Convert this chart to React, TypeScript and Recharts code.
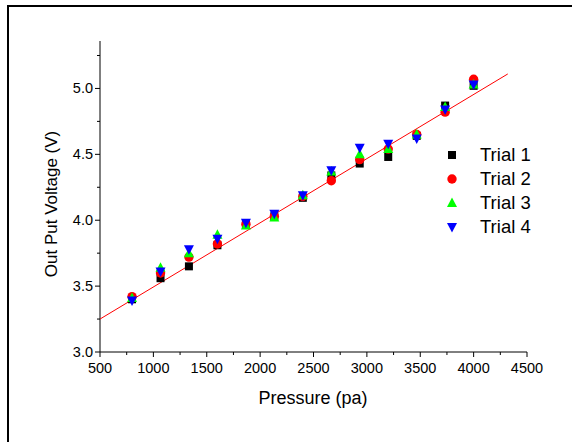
import React from 'react';
import { ComposedChart, Scatter, XAxis, YAxis, Legend } from 'recharts';

// Pressure steps (pa) and measured output voltage (V) per trial
const pressures = [800, 1067, 1333, 1600, 1867, 2133, 2400, 2667, 2933, 3200, 3467, 3733, 4000];
const trial1 = [3.4, 3.56, 3.65, 3.81, 3.97, 4.03, 4.17, 4.34, 4.43, 4.48, 4.64, 4.87, 5.02];
const trial2 = [3.42, 3.6, 3.72, 3.82, 3.97, 4.03, 4.18, 4.3, 4.46, 4.54, 4.65, 4.82, 5.07];
const trial3 = [3.41, 3.64, 3.75, 3.89, 3.96, 4.02, 4.19, 4.37, 4.5, 4.54, 4.65, 4.86, 5.03];
const trial4 = [3.39, 3.61, 3.78, 3.86, 3.98, 4.05, 4.19, 4.38, 4.55, 4.58, 4.62, 4.84, 5.03];

// Linear fit end points
const fitPressure = [500, 4320];
const fitVoltage = [3.25, 5.11];

const xTicks = [500, 750, 1000, 1250, 1500, 1750, 2000, 2250, 2500, 2750, 3000, 3250, 3500, 3750, 4000, 4250, 4500];
const yTicks = [3.0, 3.25, 3.5, 3.75, 4.0, 4.25, 4.5, 4.75, 5.0, 5.25];

const FONT = 'Arial, "Liberation Sans", sans-serif';

const series = [
  { name: 'Trial 1', values: trial1, color: '#000000', kind: 'square' },
  { name: 'Trial 2', values: trial2, color: '#ff0000', kind: 'circle' },
  { name: 'Trial 3', values: trial3, color: '#00ff00', kind: 'up' },
  { name: 'Trial 4', values: trial4, color: '#0000ff', kind: 'down' },
];

const Marker = ({ kind, cx, cy, color }: { kind: string; cx: number; cy: number; color: string }) => {
  switch (kind) {
    case 'square':
      return <rect x={cx - 4} y={cy - 4} width={8} height={8} fill={color} />;
    case 'circle':
      return <circle cx={cx} cy={cy} r={4.7} fill={color} />;
    case 'up':
      return <polygon points={`${cx},${cy - 5.5} ${cx - 5},${cy + 4} ${cx + 5},${cy + 4}`} fill={color} />;
    default:
      return <polygon points={`${cx - 5},${cy - 4} ${cx + 5},${cy - 4} ${cx},${cy + 5.5}`} fill={color} />;
  }
};

const XTick = (props: any) => {
  const { x, y, payload } = props;
  const major = payload.value % 500 === 0;
  return (
    <g>
      <line x1={x} x2={x} y1={y} y2={y + (major ? 5 : 3)} stroke="#000" />
      {major && (
        <text x={x} y={y + 21} textAnchor="middle" fontSize={14.5} fontFamily={FONT} fill="#000">
          {payload.value}
        </text>
      )}
    </g>
  );
};

const YTick = (props: any) => {
  const { x, y, payload } = props;
  const major = Math.abs((payload.value * 2) % 1) < 1e-6;
  return (
    <g>
      <line x1={x - (major ? 5 : 3)} x2={x} y1={y} y2={y} stroke="#000" />
      {major && (
        <text x={x - 7} y={y + 5} textAnchor="end" fontSize={14.5} fontFamily={FONT} fill="#000">
          {payload.value.toFixed(1)}
        </text>
      )}
    </g>
  );
};

const renderLegend = () => (
  <div style={{ fontFamily: FONT, fontSize: 18.5, color: '#000' }}>
    {series.map((s) => (
      <div key={s.name} style={{ display: 'flex', alignItems: 'center', height: 24 }}>
        <svg width={14} height={14} style={{ marginRight: 21 }}>
          <Marker kind={s.kind} cx={7} cy={7} color={s.color} />
        </svg>
        <span>{s.name}</span>
      </div>
    ))}
  </div>
);

const App: React.FC = () => {
  const fitData = fitPressure.map((p, i) => ({ p, v: fitVoltage[i] }));

  return (
    <div style={{ position: 'absolute', left: 0, top: 0, width: 572, height: 442, background: '#fff', overflow: 'hidden' }}>
      <div
        style={{
          position: 'absolute',
          left: 7,
          top: 5,
          width: 600,
          height: 500,
          borderTop: '2px solid #000',
          borderLeft: '2px solid #000',
        }}
      />
      <div style={{ position: 'absolute', left: 0, top: 0 }}>
        <ComposedChart width={572} height={442} margin={{ top: 41, right: 45, left: 0, bottom: 60 }}>
          <XAxis
            type="number"
            dataKey="p"
            domain={[500, 4500]}
            ticks={xTicks}
            interval={0}
            tickSize={0}
            tickMargin={0}
            tickLine={false}
            tick={<XTick />}
            height={30}
            stroke="#000"
            allowDataOverflow
            label={{
              content: () => (
                <text x={313} y={404} textAnchor="middle" fontSize={18} fontFamily={FONT} fill="#000">
                  Pressure (pa)
                </text>
              ),
            }}
          />
          <YAxis
            type="number"
            dataKey="v"
            domain={[3, 5.36]}
            ticks={yTicks}
            interval={0}
            tickSize={0}
            tickMargin={0}
            tickLine={false}
            tick={<YTick />}
            width={100}
            stroke="#000"
            allowDataOverflow
            label={{
              content: () => (
                <text
                  x={57}
                  y={204}
                  textAnchor="middle"
                  fontSize={17}
                  fontFamily={FONT}
                  fill="#000"
                  transform="rotate(-90 57 204)"
                >
                  Out Put Voltage (V)
                </text>
              ),
            }}
          />
          <Scatter
            name="fit"
            data={fitData}
            line={{ stroke: '#ff0000', strokeWidth: 1 }}
            shape={() => <g />}
            legendType="none"
            isAnimationActive={false}
          />
          {series.map((s) => (
            <Scatter
              key={s.name}
              name={s.name}
              data={pressures.map((p, i) => ({ p, v: s.values[i] }))}
              fill={s.color}
              shape={(pt: any) => <Marker kind={s.kind} cx={pt.cx} cy={pt.cy} color={s.color} />}
              isAnimationActive={false}
            />
          ))}
          <Legend
            layout="vertical"
            align="center"
            verticalAlign="middle"
            content={renderLegend}
            wrapperStyle={{ left: 445, top: 143, width: 115 }}
          />
        </ComposedChart>
      </div>
    </div>
  );
};

export default App;
